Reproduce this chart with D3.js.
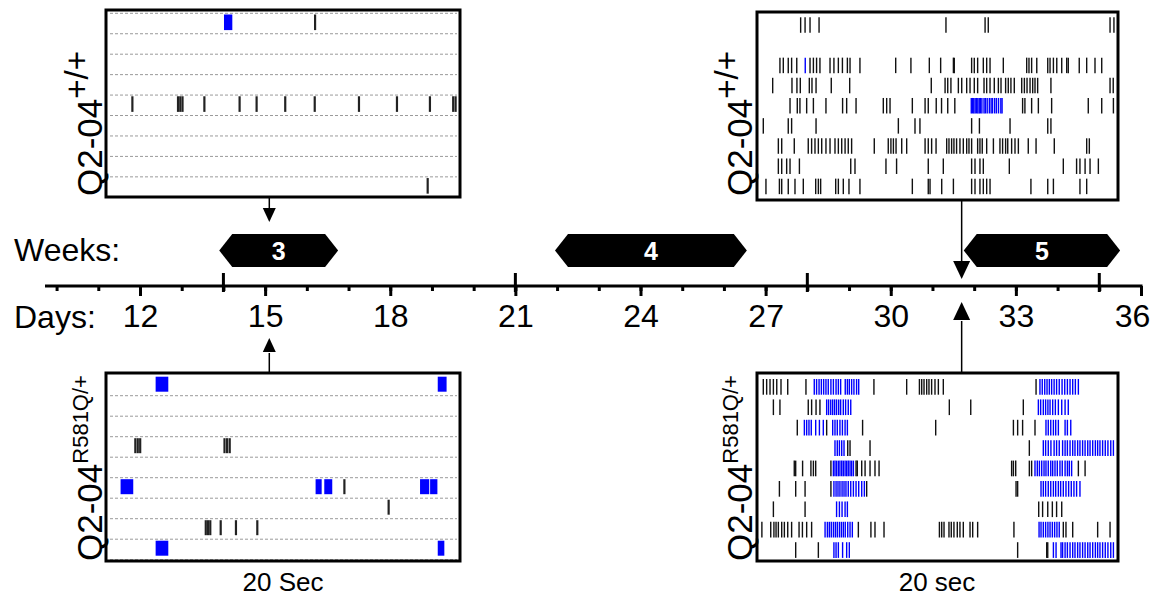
<!DOCTYPE html>
<html><head><meta charset="utf-8">
<script src="https://cdn.jsdelivr.net/npm/d3@7"></script>
<style>
body{margin:0;background:#fff;}
text{font-family:"Liberation Sans",Arial,Helvetica,sans-serif;}
</style>
</head><body>
<svg id="c" width="1152" height="598"></svg>
<script>
// ---------------- DATA ----------------
const dayTickLabels = [12, 15, 18, 21, 24, 27, 30, 33, 36];
const dayMinorTicks = [10,11,12,13,14,15,16,17,18,19,20,21,22,23,24,25,26,27,28,29,30,31,32,33,34,35,36];
const weekBoundaryDays = [14, 21, 28, 35];
const weekNames = ["3", "4", "5"];
const weekStartDays = [13.9, 21.95, 31.75];
const weekEndDays = [16.75, 26.55, 35.5];
const recordingDays = [15.1, 31.7];
const genotypeMain = "Q2-04";
const genotypeSup = ["+/+", "R581Q/+"];
const timeLabels = ["20 Sec", "20 sec"];

// week 3, Q2-04 +/+  (spike times in s, 9 traces)
const wt3Spikes = [
  [11.82], [], [], [],
  [1.29, 3.92, 4.05, 4.18, 5.44, 7.47, 8.45, 10.1, 11.8, 14.35, 16.54, 18.44, 19.78, 19.92],
  [], [], [],
  [18.31]
];
const wt3Bursts = [[0, 6.57, 7.05]];

// week 3, Q2-04 R581Q/+
const mut3Spikes = [
  [], [], [],
  [1.46, 1.6, 1.74, 6.6, 6.75, 6.9],
  [],
  [13.51],
  [16.06],
  [5.52, 5.65, 5.78, 6.38, 7.26, 8.49],
  []
];
const mut3Bursts = [[0, 2.63, 3.36], [0, 18.89, 19.4], [5, 0.61, 1.34], [5, 11.85, 12.2], [5, 12.35, 12.81],
  [5, 17.87, 18.4], [5, 18.45, 18.87], [8, 2.63, 3.36], [8, 18.89, 19.27]];

// week 5, Q2-04 +/+
const wt5Black = [
  [2.24, 2.49, 2.77, 3.28, 10.45, 12.66, 12.84, 19.72, 19.94],
  [],
  [1.07, 1.26, 1.54, 1.73, 2.02, 2.77, 2.96, 3.14, 3.33, 3.90, 4.12, 4.37, 4.60, 4.88, 5.03, 5.59, 7.61, 8.47, 9.51, 10.15, 10.87, 10.92, 11.90, 12.05, 12.24, 12.56, 12.75, 12.94, 13.69, 15.01, 15.14, 15.29, 15.58, 16.20, 16.33, 16.52, 16.71, 16.99, 17.27, 17.36, 17.98, 18.40, 18.87, 19.25],
  [0.66, 1.75, 2.03, 2.22, 2.73, 2.88, 3.11, 3.97, 5.01, 9.62, 10.4, 10.55, 10.73, 11.15, 11.34, 11.62, 11.81, 12.05, 12.24, 12.6, 12.75, 12.94, 13.18, 13.41, 13.56, 13.82, 13.97, 14.12, 14.31, 14.73, 14.88, 15.03, 15.2, 15.35, 15.48, 15.63, 16.38, 19.72, 19.9],
  [1.64, 2.05, 2.20, 2.58, 2.96, 3.67, 4.61, 4.84, 5.37, 6.91, 7.10, 7.29, 8.55, 9.27, 9.45, 9.9, 10.2, 10.55, 10.95, 14.78, 14.91, 15.29, 15.67, 16.42, 18.49, 19.25, 19.91],
  [0.13, 1.54, 1.73, 3.11, 7.76, 8.70, 8.98, 11.90, 12.34, 14.07, 16.20, 16.38],
  [0.98, 1.17, 1.88, 2.67, 2.86, 3.05, 3.24, 3.43, 3.67, 3.90, 4.18, 4.37, 4.56, 4.75, 4.93, 5.12, 6.40, 7.19, 7.34, 7.48, 7.63, 7.95, 8.23, 9.27, 9.45, 9.64, 9.89, 10.49, 10.62, 10.77, 10.90, 11.05, 11.24, 11.43, 11.62, 11.75, 11.90, 12.24, 12.37, 12.50, 12.75, 13.13, 13.50, 13.65, 13.82, 13.94, 14.16, 14.35, 14.54, 15.10, 15.54, 16.57, 18.40, 18.55],
  [0.98, 1.17, 1.45, 1.64, 2.17, 5.07, 5.31, 7.06, 7.66, 9.45, 10.30, 11.90, 12.09, 12.37, 12.56, 14.03, 17.08, 17.83, 18.02, 18.31, 18.59, 19.06],
  [0.28, 1.04, 1.17, 1.54, 1.92, 2.39, 3.09, 3.24, 3.37, 4.22, 4.37, 4.65, 4.97, 5.59, 8.55, 9.45, 9.55, 10.21, 10.87, 11.90, 12.09, 12.37, 12.56, 12.75, 12.94, 15.25, 16.20, 16.52, 18.02, 18.40]
];
const wt5Blue = [
  [], [], [2.50], [],
  [11.88, 11.95, 12.02, 12.1, 12.18, 12.25, 12.33, 12.4, 12.48, 12.6, 12.68, 12.78, 12.9, 13.0, 13.08, 13.2, 13.3, 13.42, 13.55, 13.62],
  [], [], [], []
];

// week 5, Q2-04 R581Q/+
const mut5Black = [
  [0.13, 0.32, 0.51, 0.70, 0.89, 1.13, 1.51, 2.54, 6.38, 8.23, 8.95, 9.08, 9.21, 9.36, 9.49, 9.64, 9.83, 10.02, 10.30, 15.54],
  [0.70, 1.07, 2.67, 2.86, 3.11, 3.33, 10.64, 11.85, 14.82],
  [2.05, 3.71, 5.74, 9.87, 14.26, 14.50, 14.78, 15.48],
  [4.90, 5.03, 6.16, 15.16],
  [1.88, 1.96, 2.35, 2.82, 2.96, 3.09, 3.95, 5.37, 5.44, 5.69, 5.88, 6.16, 6.44, 6.67, 14.16, 14.26, 14.39, 15.16, 15.29, 17.93, 18.31],
  [1.04, 1.96, 2.49, 3.95, 5.97, 14.41, 14.50],
  [0.70, 2.49, 15.69, 15.91, 16.20, 16.46, 16.70, 16.99],
  [0.05, 0.55, 0.73, 0.85, 0.98, 1.17, 1.32, 1.51, 1.73, 2.15, 2.34, 2.58, 2.86, 5.50, 6.21, 6.44, 6.95, 10.08, 10.21, 10.34, 10.62, 10.75, 10.90, 11.09, 11.24, 11.43, 11.81, 11.96, 12.24, 14.29, 17.08, 17.23, 17.61, 19.02, 19.72],
  [1.96, 3.24, 14.50, 16.14, 16.20]
];
const mut5Blue = [
  [3.01, 3.14, 3.28, 3.41, 3.54, 3.67, 3.80, 3.95, 4.09, 4.24, 4.37, 4.50, 4.76, 4.88, 4.99, 5.12, 5.25, 5.40, 5.52, 15.76, 15.89, 16.03, 16.16, 16.29, 16.42, 16.56, 16.70, 16.85, 17.01, 17.16, 17.31, 17.46, 17.61, 17.76, 17.93],
  [3.71, 3.82, 3.94, 4.05, 4.16, 4.27, 4.39, 4.50, 4.65, 4.78, 4.93, 5.07, 15.67, 15.80, 15.95, 16.08, 16.21, 16.33, 16.48, 16.63, 16.80, 16.99, 17.18, 17.36],
  [2.45, 2.58, 2.71, 2.84, 3.09, 3.30, 3.52, 4.05, 4.18, 4.31, 4.46, 4.60, 4.75, 4.88, 16.10, 16.23, 16.37, 16.52, 16.65, 16.80, 17.18, 17.31, 17.50],
  [4.18, 4.31, 4.43, 4.56, 4.69, 15.95, 16.08, 16.23, 16.38, 16.56, 16.70, 16.85, 17.04, 17.18, 17.31, 17.46, 17.61, 17.74, 17.89, 18.02, 18.17, 18.31, 18.46, 18.59, 18.74, 18.89, 19.02, 19.15, 19.30, 19.45, 19.60, 19.76, 19.91],
  [4.09, 4.18, 4.27, 4.37, 4.46, 4.56, 4.65, 4.75, 4.84, 4.93, 5.03, 5.12, 5.22, 15.48, 15.61, 15.73, 15.86, 15.99, 16.10, 16.23, 16.37, 16.48, 16.61, 16.74, 16.89, 17.02, 17.18, 17.31, 17.42, 17.55],
  [4.12, 4.24, 4.35, 4.46, 4.58, 4.69, 4.80, 4.93, 5.07, 5.22, 5.37, 5.52, 5.69, 5.84, 15.82, 15.95, 16.08, 16.23, 16.37, 16.52, 16.65, 16.80, 16.93, 17.08, 17.23, 17.38, 17.53, 17.68, 17.83, 18.02],
  [4.27, 4.43, 4.58, 4.75, 4.88],
  [3.62, 3.75, 3.86, 3.97, 4.09, 4.20, 4.31, 4.43, 4.54, 4.65, 4.76, 4.90, 5.03, 5.16, 15.71, 15.82, 15.95, 16.08, 16.21, 16.33, 16.46, 16.59, 16.72, 16.85],
  [4.12, 4.24, 4.37, 4.61, 4.84, 4.99, 16.52, 16.67, 16.95, 17.04, 17.18, 17.31, 17.46, 17.61, 17.74, 17.89, 18.02, 18.17, 18.31, 18.46, 18.59, 18.74, 18.89, 19.02, 19.15, 19.30, 19.45, 19.60, 19.76, 19.91]
];

// ---------------- DRAW ----------------
const svg = d3.select("#c");
const BLUE = "#0000ff";
const axisY = 286;

const dayX = d3.scaleLinear().domain([12, 36]).range([140, 1141]);

// main time line
svg.append("line").attr("x1", 45).attr("x2", dayX(36) + 1.5).attr("y1", axisY).attr("y2", axisY)
  .attr("stroke", "#000").attr("stroke-width", 3);

// minor day ticks
const minorAxis = d3.axisBottom(dayX).tickValues(dayMinorTicks).tickSize(5).tickFormat("");
const gMinor = svg.append("g").attr("transform", `translate(0,${axisY})`).call(minorAxis);
gMinor.select(".domain").remove();
gMinor.selectAll("line").attr("stroke", "#000").attr("stroke-width", 3);

// labelled ticks
const labAxis = d3.axisBottom(dayX).tickValues(dayTickLabels).tickSize(10).tickPadding(8).tickFormat(d => d);
const gLab = svg.append("g").attr("transform", `translate(0,${axisY})`).call(labAxis);
gLab.select(".domain").remove();
gLab.selectAll("line").attr("stroke", "#000").attr("stroke-width", 3);
gLab.selectAll("text").attr("font-size", 32).attr("fill", "#000")
  .attr("font-family", "'Liberation Sans', Arial, sans-serif")
  .attr("dx", d => d === 36 ? -9 : 0);

// week boundary ticks
svg.selectAll(".wk").data(weekBoundaryDays).enter().append("line")
  .attr("x1", d => dayX(d)).attr("x2", d => dayX(d))
  .attr("y1", axisY - 13).attr("y2", axisY + 6)
  .attr("stroke", "#000").attr("stroke-width", 3);

svg.append("text").attr("x", 14).attr("y", 261).attr("font-size", 32).text("Weeks:");
svg.append("text").attr("x", 14).attr("y", 328).attr("font-size", 32).text("Days:");

// week hexagons
const hexTop = 234, hexBot = 267, hexMid = (hexTop + hexBot) / 2, inset = 13;
weekNames.forEach((w, i) => {
  const x0 = dayX(weekStartDays[i]), x1 = dayX(weekEndDays[i]);
  const pts = [[x0, hexMid], [x0 + inset, hexTop], [x1 - inset, hexTop], [x1, hexMid], [x1 - inset, hexBot], [x0 + inset, hexBot]];
  svg.append("path").attr("d", d3.line()(pts) + "Z").attr("fill", "#000");
  svg.append("text").attr("x", (x0 + x1) / 2).attr("y", hexMid + 9).attr("text-anchor", "middle")
    .attr("font-size", 25).attr("font-weight", "bold").attr("fill", "#fff").text(w);
});

// arrows
function arrowDown(x, y1, yBase, yTip, hw) {
  svg.append("line").attr("x1", x).attr("x2", x).attr("y1", y1).attr("y2", yBase + 1).attr("stroke", "#000").attr("stroke-width", 1.5);
  svg.append("path").attr("d", d3.line()([[x - hw, yBase], [x + hw, yBase], [x, yTip]]) + "Z").attr("fill", "#000");
}
const xa = dayX(recordingDays[0]), xb = dayX(recordingDays[1]);
arrowDown(xa, 197, 208, 222, 6.5);
arrowDown(xa, 373, 352, 338, 6.5);
arrowDown(xb, 200, 261, 279, 8.5);
arrowDown(xb, 373, 320, 302, 8.5);

// raster panels
function panel(opt) {
  const g = svg.append("g");
  const x = d3.scaleLinear().domain([0, 20]).range(opt.xr);
  const row = d3.scaleLinear().domain([0, 9]).range(opt.yr);
  if (opt.dashed) {
    g.selectAll(".dl").data(opt.dashRows).enter().append("line")
      .attr("x1", opt.xr[0]).attr("x2", opt.xr[1])
      .attr("y1", d => row(d)).attr("y2", d => row(d))
      .attr("stroke", "#9a9a9a").attr("stroke-width", 1).attr("stroke-dasharray", "3,2");
  }
  (opt.bursts || []).forEach(b => {
    g.append("rect").attr("x", x(b[1])).attr("width", x(b[2]) - x(b[1]))
      .attr("y", row(b[0]) + opt.sp[0]).attr("height", opt.sp[1] - opt.sp[0]).attr("fill", BLUE);
  });
  const drawRows = (rows, color, w) => rows.forEach((ts, r) => {
    g.selectAll(null).data(ts).enter().append("line")
      .attr("x1", d => x(d)).attr("x2", d => x(d))
      .attr("y1", row(r) + opt.sp[0]).attr("y2", row(r) + opt.sp[1])
      .attr("stroke", color).attr("stroke-width", w);
  });
  drawRows(opt.black, opt.blackColor || "#111", opt.bw);
  if (opt.blue) drawRows(opt.blue, BLUE, opt.bw);
  g.append("rect").attr("x", opt.box[0]).attr("y", opt.box[1]).attr("width", opt.box[2]).attr("height", opt.box[3])
    .attr("fill", "none").attr("stroke", "#000").attr("stroke-width", 3);
}

panel({box: [106, 10, 354, 187], xr: [110, 457], yr: [13.3, 197.3], sp: [1.2, 16.8],
  dashed: true, dashRows: [0,1,2,3,4,5,6,7,8,9], black: wt3Spikes, bursts: wt3Bursts, bw: 2.2, blackColor: "#222"});
panel({box: [106, 373, 354, 188], xr: [110, 457], yr: [375.2, 559.7], sp: [1.5, 16.5],
  dashed: true, dashRows: [1,2,3,4,5,6,7,8,9], black: mut3Spikes, bursts: mut3Bursts, bw: 2.2, blackColor: "#222"});
panel({box: [757, 12, 361, 188], xr: [761, 1115], yr: [16.3, 197.8], sp: [1, 16.5],
  dashed: false, black: wt5Black, blue: wt5Blue, bw: 1.4});
panel({box: [757, 373, 361, 188], xr: [761, 1115], yr: [378, 561.6], sp: [1, 16.7],
  dashed: false, black: mut5Black, blue: mut5Blue, bw: 1.4});

// genotype labels (rotated)
function geno(x, yBottom, sup, supSize) {
  const t = svg.append("text").attr("transform", `translate(${x},${yBottom}) rotate(-90)`)
    .attr("font-size", 35);
  t.append("tspan").text(genotypeMain);
  t.append("tspan").attr("font-size", supSize).attr("dy", -14).text(sup);
}
geno(102, 196, genotypeSup[0], 33);
geno(102, 561, genotypeSup[1], 22);
geno(752, 196, genotypeSup[0], 33);
geno(752, 561, genotypeSup[1], 22);

// time-scale captions
svg.append("text").attr("x", 283).attr("y", 591).attr("text-anchor", "middle").attr("font-size", 26).text(timeLabels[0]);
svg.append("text").attr("x", 937).attr("y", 591).attr("text-anchor", "middle").attr("font-size", 26).text(timeLabels[1]);
</script>
</body></html>
